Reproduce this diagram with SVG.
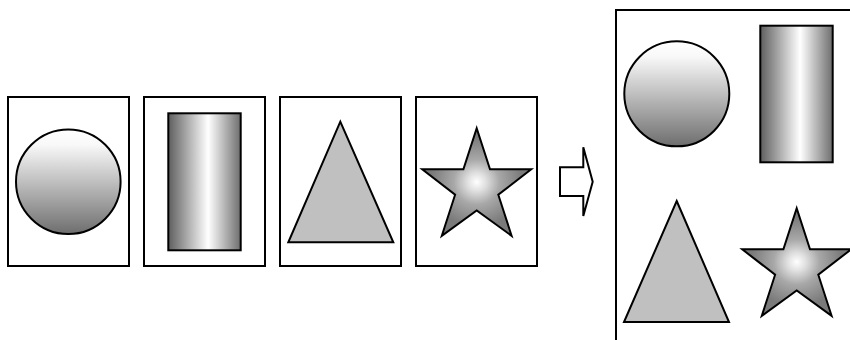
<svg xmlns="http://www.w3.org/2000/svg" width="850" height="340" viewBox="0 0 850 340">
<style>
.frame{fill:#fff;stroke:#000;stroke-width:2}
.shape{stroke:#000;stroke-width:2;stroke-linejoin:miter}
.circ{fill:url(#gV)}
.cyl{fill:url(#gH)}
.tri{fill:#c0c0c0}
.star{fill:url(#gR)}
.arrow{fill:#fff;stroke:#000;stroke-width:2}
</style>
<defs>
<linearGradient id="gV" x1="0" y1="0" x2="0" y2="1">
<stop offset="0" stop-color="#ffffff"/>
<stop offset="0.15" stop-color="#f8f8f8"/>
<stop offset="1" stop-color="#6e6e6e"/>
</linearGradient>
<linearGradient id="gH" x1="0" y1="0" x2="1" y2="0">
<stop offset="0" stop-color="#5e5e5e"/>
<stop offset="0.55" stop-color="#ffffff"/>
<stop offset="1" stop-color="#6e6e6e"/>
</linearGradient>
<radialGradient id="gR" cx="0.5" cy="0.5" r="0.42">
<stop offset="0" stop-color="#ffffff"/>
<stop offset="0.2" stop-color="#e0e0e0"/>
<stop offset="0.5" stop-color="#a8a8a8"/>
<stop offset="1" stop-color="#7a7a7a"/>
</radialGradient>
<polygon id="starShape" points="0,-59.4 13.3,-18.4 54.5,-18.4 21.6,7 34.9,48.1 0,22.7 -34.9,48.1 -21.6,7 -54.5,-18.4 -13.3,-18.4"/>
</defs>
<g id="frame1"><rect class="frame" x="8" y="97" width="121" height="169"/><circle class="shape circ" cx="68.3" cy="181.8" r="52.3"/></g>
<g id="frame2"><rect class="frame" x="144" y="97" width="121" height="169"/><rect class="shape cyl" x="168.3" y="113.3" width="72.4" height="137"/></g>
<g id="frame3"><rect class="frame" x="280" y="97" width="121" height="169"/><polygon class="shape tri" points="340.3,121.7 393.3,242.3 288.3,242.3"/></g>
<g id="frame4"><rect class="frame" x="416" y="97" width="121" height="169"/><use href="#starShape" class="shape star" transform="translate(476.7,187.7)"/></g>
<g id="result"><rect class="frame" x="616" y="10" width="250" height="345"/>
<circle class="shape circ" cx="676.8" cy="93.8" r="52.5"/>
<rect class="shape cyl" x="760.3" y="25.7" width="72.4" height="136.6"/>
<polygon class="shape tri" points="676.7,201 729,322 624,322"/>
<use href="#starShape" class="shape star" transform="translate(796.7,267.7)"/>
</g>
<g id="connectors"><path class="arrow" d="M560,167.3 H583.3 V147.3 L592.7,181.7 L583.3,216 V196 H560 Z"/></g>
</svg>
